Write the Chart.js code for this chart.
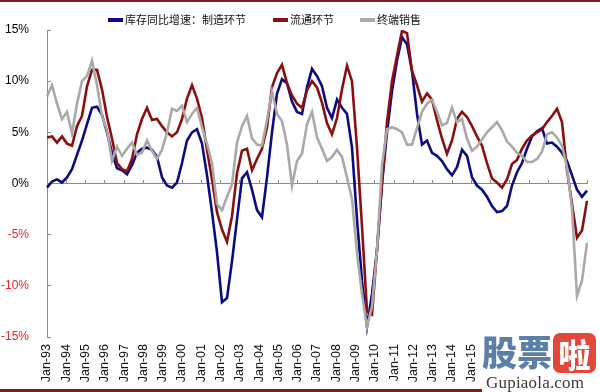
<!DOCTYPE html>
<html><head><meta charset="utf-8">
<script src="https://cdn.jsdelivr.net/npm/chart.js@4.4.1/dist/chart.umd.min.js"></script>
<style>
html,body{margin:0;padding:0;background:#fff;}
#wrap{position:relative;width:600px;height:392px;overflow:hidden;background:#fff;}
#c{position:absolute;left:0;top:0;}
#topbar{position:absolute;left:0;top:0;width:600px;height:2px;background:#7d1f1f;}
#botbar{position:absolute;left:0;bottom:0;width:482px;height:3px;background:#7d1f1f;}
#legend{position:absolute;top:11px;left:0;width:600px;height:16px;font-family:'Noto Sans CJK SC',sans-serif;font-size:11px;color:#111;}
.item{position:absolute;top:0;height:16px;line-height:16px;white-space:nowrap;}
.swatch{display:inline-block;width:15px;height:4px;vertical-align:middle;margin-right:2px;position:relative;top:-1px;}
#wm{position:absolute;left:480px;top:331px;width:120px;height:61px;background:#fff;}
#wmA{position:absolute;left:2px;top:0px;font-family:'Noto Sans CJK SC',sans-serif;font-weight:900;font-size:35px;line-height:40px;color:#5b7fa8;letter-spacing:0px;}
#wmB{position:absolute;left:73px;top:2px;width:43px;height:40px;border-radius:7px;background:#e2473c;color:#fff;font-family:'Noto Sans CJK SC',sans-serif;font-weight:900;font-size:32px;line-height:40px;text-align:center;}
#wmC{position:absolute;left:6px;top:42px;font-family:'Liberation Serif',serif;font-size:17px;color:#3a3a3a;letter-spacing:0.2px;}
</style></head>
<body>
<div id="wrap">
<canvas id="c" width="600" height="392"></canvas>
<div id="topbar"></div>
<div id="legend"></div>
<div id="wm"><div id="wmA">股票</div><div id="wmB">啦</div><div id="wmC">Gupiaola.com</div></div>
<div id="botbar"></div>
</div>
<script>
// ---- data ----
const seriesNames = ['库存同比增速：制造环节', '流通环节', '终端销售'];
const tickLabels = ['Jan-93','Jan-94','Jan-95','Jan-96','Jan-97','Jan-98','Jan-99','Jan-00','Jan-01','Jan-02','Jan-03','Jan-04','Jan-05','Jan-06','Jan-07','Jan-08','Jan-09','Jan-10','Jan-11','Jan-12','Jan-13','Jan-14','Jan-15'];
const manufacturing = [-0.4,0.2,0.4,0.1,0.6,1.4,2.8,4.2,5.8,7.4,7.5,6.7,5.0,3.0,1.5,1.3,0.9,1.8,3.0,3.4,3.5,3.3,2.6,0.6,-0.2,-0.4,0.1,2.0,4.2,5.0,5.3,3.9,0.8,-2.8,-6.7,-11.6,-11.2,-7.6,-3.5,0.5,1.1,-0.6,-2.6,-3.3,0.6,5.0,8.8,10.2,9.8,8.0,7.0,6.8,9.4,11.2,10.5,9.5,7.4,6.4,8.2,7.4,6.8,3.5,-3.5,-9.5,-14.0,-10.8,-6.5,0.0,5.0,9.0,12.0,14.3,13.6,11.0,6.8,3.8,4.2,3.0,2.7,2.2,1.4,0.8,1.6,3.3,2.7,0.6,-0.2,-0.6,-1.3,-2.2,-2.8,-2.7,-2.2,-0.2,1.1,2.0,3.4,4.6,5.1,5.4,3.9,4.0,3.6,3.0,2.2,0.8,-0.6,-1.3,-0.7];
const distribution = [4.5,4.6,4.0,4.6,3.9,3.7,5.6,6.6,9.5,11.1,11.1,9.2,6.5,4.4,2.0,1.4,1.2,2.4,4.8,6.3,7.4,6.2,6.3,5.6,5.0,4.6,5.0,6.3,8.3,9.6,8.3,6.4,3.3,0.4,-2.8,-4.5,-5.7,-3.2,1.0,3.2,3.4,1.3,2.4,3.4,5.5,9.4,10.8,11.6,9.8,8.6,7.8,7.4,9.1,10.0,9.4,7.9,5.9,4.8,6.4,9.2,11.5,10.0,3.5,-4.2,-12.5,-12.8,-6.5,0.0,6.0,10.0,12.5,14.9,14.7,11.0,9.6,8.0,8.8,8.2,6.2,4.4,2.9,4.2,6.3,7.0,6.5,5.6,4.6,3.7,2.0,0.5,0.1,-0.4,0.4,1.9,2.3,3.4,4.2,4.7,5.0,5.3,6.0,6.6,7.3,6.0,1.3,-2.0,-5.3,-4.6,-1.7];
const terminalSales = [8.5,9.6,7.8,6.3,7.0,4.9,7.8,10.0,10.5,12.0,9.6,6.6,5.2,2.2,3.6,2.7,3.4,4.0,2.8,3.0,4.2,3.2,2.4,3.3,5.0,7.3,7.1,7.6,6.0,6.8,7.4,5.5,3.9,2.0,-2.0,-2.6,-1.3,-0.1,4.0,5.6,6.6,4.4,3.8,3.7,6.2,9.0,6.8,6.1,3.8,-0.2,2.2,2.9,5.8,7.0,4.5,3.4,2.2,2.6,3.3,2.6,0.6,-1.5,-6.8,-10.8,-14.0,-12.0,-6.5,1.8,5.3,5.5,5.3,5.0,3.8,3.8,5.4,7.0,7.8,8.2,7.0,5.7,5.9,7.4,6.0,6.3,4.4,3.2,3.6,4.3,5.0,5.5,6.0,5.2,4.1,3.6,3.0,2.7,2.1,2.1,2.4,3.1,4.8,5.0,4.5,3.7,1.6,-2.5,-11.0,-9.5,-5.8];
// sample index along the time axis (Jan-93 .. Jan-21)
const categories = manufacturing.map((_, i) => i);
const yearSpan = 28;

// ---- styles ----
const colors = ['#0c0c82', '#8c0f0f', '#a9a9a9'];
const axisGray = '#8a8a8a';
Chart.defaults.font.family = "'Liberation Sans', Arial, sans-serif";

// legend (HTML)
const legendX = [108, 273, 360];
const legendEl = document.getElementById('legend');
seriesNames.forEach((n, i) => {
  const d = document.createElement('div');
  d.className = 'item';
  d.style.left = legendX[i] + 'px';
  d.innerHTML = '<span class="swatch" style="background:' + colors[i] + '"></span>' + n;
  legendEl.appendChild(d);
});

const mk = (i, data, order) => ({
  label: seriesNames[i], data, borderColor: colors[i], backgroundColor: colors[i],
  borderWidth: 2.6, pointRadius: 0, fill: false, tension: 0, order,
  xAxisID: 'x', yAxisID: 'y'
});

new Chart(document.getElementById('c'), {
  type: 'line',
  data: { labels: categories, datasets: [mk(0, manufacturing, 3), mk(1, distribution, 2), mk(2, terminalSales, 1)] },
  options: {
    responsive: false, animation: false, devicePixelRatio: 1,
    layout: { padding: { left: 0, right: 13, top: 30, bottom: 0 } },
    plugins: { legend: { display: false }, tooltip: { enabled: false } },
    scales: {
      x: { type: 'category', display: false, offset: false },
      xt: {
        type: 'linear', position: { y: 0 }, min: 0, max: yearSpan,
        ticks: { display: false, stepSize: 1 },
        grid: { drawOnChartArea: false, drawTicks: true, tickLength: -4, color: axisGray },
        border: { color: axisGray, width: 1 }
      },
      xl: {
        type: 'linear', position: 'bottom', min: 0, max: yearSpan,
        afterBuildTicks: s => { s.ticks = tickLabels.map((_, i) => ({ value: i })); },
        afterFit: s => { s.height = 55; },
        ticks: { autoSkip: false, maxRotation: 90, minRotation: 90, padding: 7, color: '#111',
                 font: { size: 12.5 }, callback: v => (tickLabels[v] !== undefined ? tickLabels[v] : '') },
        grid: { display: false, drawTicks: false },
        border: { display: false }
      },
      y: {
        type: 'linear', position: 'left', min: -15, max: 15,
        afterFit: s => { s.width = 47; },
        ticks: { stepSize: 5, padding: 22, font: { size: 12 },
                 color: c => (c.tick && c.tick.value < 0 ? '#e3262b' : '#000'),
                 callback: v => v + '%' },
        grid: { drawOnChartArea: false, drawTicks: true, tickLength: -4, color: axisGray },
        border: { color: axisGray, width: 1 }
      }
    }
  }
});
</script>
</body></html>
